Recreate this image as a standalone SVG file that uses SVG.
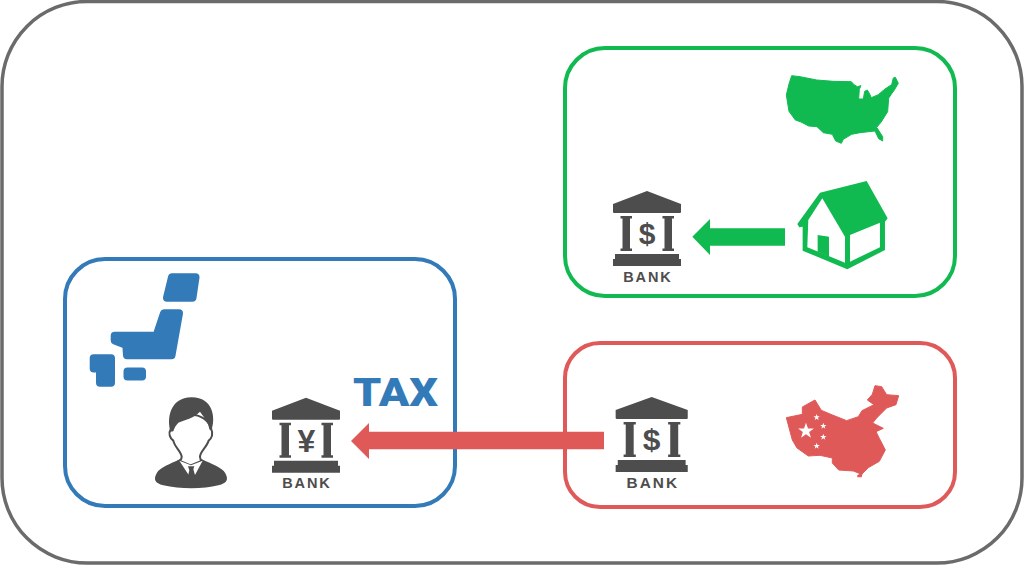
<svg xmlns="http://www.w3.org/2000/svg" width="1024" height="565" viewBox="0 0 1024 565">
<style>
.box{fill:#fff;stroke-width:4}
.g{fill:#11ba50}.b{fill:#337ab9}.r{fill:#e05959}.d{fill:#4d4d4d}.w{fill:#fff}
.bk{font-family:"Liberation Sans",Arial,sans-serif;font-weight:700;font-size:14.500px;letter-spacing:1.900px;fill:#4d4d4d;text-anchor:middle}
.cur{font-family:"Liberation Sans",Arial,sans-serif;font-weight:700;fill:#4d4d4d;text-anchor:middle}
.tax{font-family:Roboto,"Liberation Sans",sans-serif;font-weight:900;font-size:38px;fill:#337ab9}
</style>
<defs>
<g id="bank-icon">
<path class="d" d="M0 0L34 13V21Q34 22 33 22H-33Q-34 22-34 21V13Z"/>
<path class="d" d="M-26.500 25H-15V27.500H-17V57.500H-15V60H-26.500V57.500H-24.500V27.500H-26.500ZM15.500 25H27V27.500H25V57.500H27V60H15.500V57.500H17.500V27.500H15.500Z"/>
<path class="d" d="M-32 63H32V68H34V75H-34V68H-32Z"/>
</g>
<path id="star" class="w" d="M0-1L.24-.31.95-.31.38.12.59.81 0 .4-.59.81-.38.12-.95-.31-.24-.31Z"/>
</defs>
<rect id="frame" x="2" y="1.500" width="1020" height="561.500" rx="85" fill="#fff" stroke="#6b6b6b" stroke-width="3.500"/>

<g id="usa-box">
<rect class="box" x="565" y="48" width="390" height="248" rx="40" stroke="#11ba50"/>
<path class="g" stroke="#11ba50" stroke-width="3" stroke-linejoin="round" transform="translate(780 70) scale(.3333)" d="M35 17L60 20 110 30 160 34 214 35 222 44 232 50 243 47 238 58 236 87 250 87 254 64 262 60 268 70 274 83 295 74 315 57 335 44 340 24 346 22 355 40 343 60 333 74 326 85 323 125 303 157 290 172 308 200 308 213 296 206 285 183 240 188 215 193 190 208 184 220 167 213 157 193 130 188 111 170 86 168 63 156 46 150 27 124 19 75 27 42Z"/>
<g id="house" transform="translate(560 40) scale(.3333)">
<path class="g" d="M780 458L920 423 983 535 975 545V630L862 688 728 632V560L718 562 712 552Z"/>
<path class="w" d="M745 540L787 475 855 590V668L742 622Z"/>
<path class="w" d="M870 585L960 548V622L870 665Z"/>
<path class="g" d="M773 585L807 590V650L773 635Z"/>
</g>
<g id="bank-usd" transform="translate(647 191)">
<use href="#bank-icon"/>
<text class="cur" x="0" y="53" font-size="30">$</text>
<text class="bk" x="1" y="90.500">BANK</text>
</g>
</g>

<g id="japan-box">
<rect class="box" x="65" y="259" width="390" height="247" rx="40" stroke="#337ab9"/>
<g id="japan" class="b" stroke="#337ab9" stroke-width="8" stroke-linejoin="round">
<path d="M172 277.300H195.500L192.500 297.700H167Z"/>
<path d="M164 313.300H179L171.500 355.300H127L126.300 345 114.700 340.500V335.700H156.500Z"/>
<path d="M93.700 358.300H111V382.700H100V368.500H93.700Z"/>
<rect x="127.500" y="371.500" width="14.500" height="5"/>
</g>
<g id="person" transform="translate(150 390) scale(.3333)">
<path class="d" d="M90 208C60 222 30 232 20 250 10 268 14 280 40 286 90 298 160 298 205 286 232 280 236 268 226 250 216 232 185 222 155 208Z"/>
<path class="w" stroke="#4d4d4d" stroke-width="6" d="M62 118C54 130 60 145 70 152 74 172 94 185 95 200 95 205 92 210 88 212L122 226 156 212C152 210 150 205 150 200 150 185 170 172 176 152 186 145 190 130 184 118 170 60 75 60 62 118Z"/>
<path class="d" d="M62 125C50 90 58 22 125 22 190 22 198 85 184 122L178 118C176 100 165 85 150 65 130 85 105 90 85 98 78 105 72 115 70 124Z"/>
<path class="w" d="M88 212L116 255 122 232 128 232 135 255 158 212 123 226Z"/>
<path class="d" d="M114 229H133L129 241 133 262 124 270 113 262 118 241Z"/>
</g>
<g id="bank-jpy" transform="translate(306 397.700)">
<use href="#bank-icon"/>
<text class="cur" x="0.500" y="54" font-size="32">¥</text>
<text class="bk" x="1" y="90.500">BANK</text>
</g>
<text class="tax" x="353" y="405.500" textLength="85" lengthAdjust="spacingAndGlyphs">TAX</text>
</g>

<g id="china-box">
<rect class="box" x="565" y="343" width="390" height="164" rx="35" stroke="#e05959"/>
<g id="china" transform="translate(780 380) scale(.3333)">
<path class="r" stroke="#e05959" stroke-width="3" stroke-linejoin="round" d="M285 17L305 20 320 44 356 47 348 74 320 84 290 114 278 129 310 145 288 155 298 175 316 210 298 244 265 263 245 283 220 273 176 270 157 249 157 234 120 226 85 228 51 204 37 180 19 113 67 103 67 81 105 60 124 91 150 102 200 122 235 110 246 92 282 74 262 60 277 43Z"/>
<path class="r" d="M232 285L248 278 245 292 232 292Z"/>
<use href="#star" transform="translate(78 153) scale(25)"/>
<use href="#star" transform="translate(110 112) scale(10)"/>
<use href="#star" transform="translate(130 138) scale(10)"/>
<use href="#star" transform="translate(130 171) scale(10)"/>
<use href="#star" transform="translate(110 198) scale(10)"/>
</g>
<g id="bank-usd-cn" transform="translate(651.700 397) scale(1.060 1)">
<use href="#bank-icon"/>
<text class="cur" x="0" y="53" font-size="30">$</text>
<text class="bk" x="1" y="91">BANK</text>
</g>
</g>

<g id="connectors">
<path class="g" d="M692.300 236.800L710 219V228.300H785V245.700H710V255Z"/>
<path class="r" d="M351 441L369 423V431.800H604V449.300H369V459Z"/>
</g>
</svg>
